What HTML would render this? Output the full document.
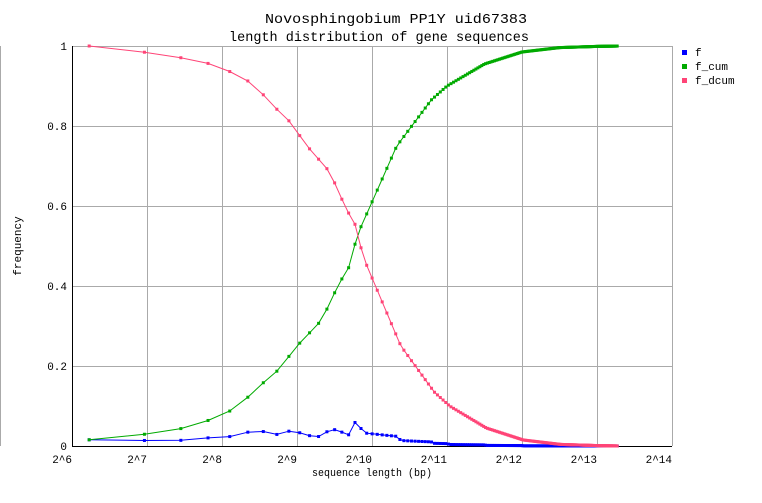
<!DOCTYPE html>
<html><head><meta charset="utf-8"><style>
body{margin:0;background:#fff}
svg text{font-family:"Liberation Mono","DejaVu Sans Mono",monospace;fill:#000}
</style></head><body>
<svg id="s" width="762" height="498" xmlns="http://www.w3.org/2000/svg">
<text x="265" y="23" font-size="14" textLength="262" lengthAdjust="spacingAndGlyphs">Novosphingobium PP1Y uid67383</text>
<text x="229" y="41" font-size="14" textLength="300" lengthAdjust="spacingAndGlyphs">length distribution of gene sequences</text>
<line x1="0.5" y1="46" x2="0.5" y2="446" stroke="#aaa"/>
<g id="grid" stroke="#aaa" stroke-width="1"></g>
<line x1="72.5" y1="46" x2="72.5" y2="446" stroke="#000"/>
<line x1="72" y1="446.5" x2="672" y2="446.5" stroke="#000"/>
<g id="labels" font-size="11"></g>
<text x="312" y="476" font-size="11" textLength="120" lengthAdjust="spacingAndGlyphs">sequence length (bp)</text>
<text transform="translate(21,246) rotate(-90)" font-size="11" text-anchor="middle">frequency</text>
<rect x="682" y="50" width="5" height="5" fill="#0000ff"/><text x="695" y="56" font-size="11">f</text>
<rect x="682" y="64" width="5" height="5" fill="#00aa00"/><text x="695" y="70" font-size="11">f_cum</text>
<rect x="682" y="78" width="5" height="5" fill="#ff4477"/><text x="695" y="84" font-size="11">f_dcum</text>
<g id="data"></g>
</svg>
<script>
var NS="http://www.w3.org/2000/svg";
function el(t,a,p){var e=document.createElementNS(NS,t);for(var k in a)e.setAttribute(k,a[k]);p.appendChild(e);return e;}
var g=document.getElementById('grid'),lb=document.getElementById('labels');
for(var n=7;n<=14;n++){var x=72+75*(n-6)+.5;el('line',{x1:x,y1:46,x2:x,y2:446},g);}
for(var i=0;i<5;i++){var y=46+80*i+.5;el('line',{x1:72,y1:y,x2:672,y2:y},g);}
for(var n=6;n<=14;n++){var t=el('text',{x:72+75*(n-6),y:463,'text-anchor':'end'},lb);t.textContent='2^'+n;}
var yl=['1','0.8','0.6','0.4','0.2','0'];
for(var i=0;i<6;i++){var t=el('text',{x:67,y:50+80*i,'text-anchor':'end'},lb);t.textContent=yl[i];}
var A=[[6.2,0.015],[7,0.03],[7.5,0.045],[8,0.075],[8.25,0.105],[8.5,0.15],[8.75,0.19],[9,0.25],[9.33,0.315],[9.57,0.41],[9.68,0.44],[9.81,0.53],[10,0.61],[10.33,0.75],[10.79,0.865],[11,0.9],[11.5,0.955],[12,0.985],[12.5,0.996],[13,0.999],[13.3,1]];
function cum(l){if(l<=A[0][0])return A[0][1]*Math.max(0,(l-5.5)/0.7);for(var i=1;i<A.length;i++)if(l<=A[i][0]){var a=A[i-1],b=A[i];return a[1]+(b[1]-a[1])*(l-a[0])/(b[0]-a[0]);}return 1;}
var X=function(l){return 72+75*(l-6)},Y=function(v){return 446-400*v};
var F=[],C=[],D=[],prev=0;
for(var L=75;L<=9900;L+=50){var l=Math.log2(L),c=cum(l),x=X(l);F.push([x,Math.max(0,c-prev)]);D.push([x,1-prev]);C.push([x,c]);prev=c;}
var d=document.getElementById('data');
function series(P,col){var s='';P.forEach(function(p,i){s+=(i?'L':'M')+p[0].toFixed(1)+' '+Y(p[1]).toFixed(1);});
el('path',{d:s,fill:'none',stroke:col,'stroke-width':1},d);P.forEach(function(p){el('rect',{x:p[0]-1.5,y:Y(p[1])-1.5,width:3,height:3,fill:col},d);});}
series(F,'#0000ff');series(C,'#00aa00');series(D,'#ff4477');
</script>
</body></html>
